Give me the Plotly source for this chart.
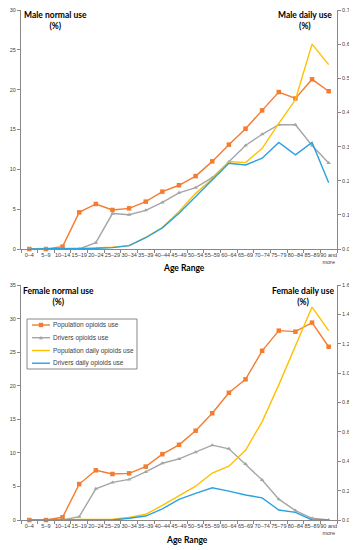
import plotly.graph_objects as go

age_groups = ["0–4", "5–9", "10–14", "15–19", "20–24", "25–29", "30–34", "35–39",
              "40–44", "45–49", "50–54", "55–59", "60–64", "65–69", "70–74",
              "75–79", "80–84", "85–89", "90 and<br>more"]

# Male
male_pop_use = [0, 0, 0.3, 4.6, 5.65, 4.9, 5.1, 5.95, 7.2, 8.0, 9.15, 11.0, 13.1,
                15.1, 17.4, 19.7, 18.9, 21.3, 19.8]
male_drv_use = [0, 0, 0, 0, 0.8, 4.45, 4.3, 4.85, 5.85, 7.05, 7.7, 8.95, 10.95,
                13.0, 14.4, 15.6, 15.6, 13.0, 10.8]
male_pop_daily = [0, 0, 0, 0, 0.003, 0.005, 0.01, 0.034, 0.063, 0.11, 0.163, 0.205,
                  0.256, 0.253, 0.295, 0.368, 0.437, 0.6, 0.54]
male_drv_daily = [0, 0, 0, 0, 0.002, 0.004, 0.01, 0.033, 0.062, 0.105, 0.153, 0.202,
                  0.251, 0.246, 0.266, 0.312, 0.276, 0.312, 0.194]

# Female
female_pop_use = [0, 0, 0.4, 5.35, 7.4, 6.85, 6.95, 7.95, 9.8, 11.2, 13.3, 15.9,
                  18.95, 20.95, 25.2, 28.2, 28.05, 29.4, 25.8]
female_drv_use = [0, 0, 0, 0.5, 4.65, 5.6, 6.05, 7.15, 8.45, 9.1, 10.1, 11.15,
                  10.6, 8.35, 5.95, 3.1, 1.4, 0.25, 0]
female_pop_daily = [0, 0, 0, 0, 0, 0.005, 0.018, 0.039, 0.1, 0.165, 0.23, 0.32,
                    0.366, 0.475, 0.67, 0.92, 1.18, 1.45, 1.29]
female_drv_daily = [0, 0, 0, 0, 0, 0, 0.012, 0.027, 0.075, 0.14, 0.181, 0.219,
                    0.197, 0.17, 0.151, 0.068, 0.052, 0.0, 0.0]

names = ["Population opioids use", "Drivers opioids use",
         "Population daily opioids use", "Drivers daily opioids use"]
colors = ["#F47C30", "#A5A5A5", "#FFC000", "#2AA2DF"]

# The page body has an 8px default margin; lay the figure out in screen pixels
OFF = 8
W, H = 357 - OFF, 550 - OFF
PLOT_L, PLOT_R, PLOT_T, PLOT_B = 21, 337, 10, 520   # screen pixels
L, T = PLOT_L - OFF, PLOT_T - OFF
R, B = W - (PLOT_R - OFF), H - (PLOT_B - OFF)
PW, PH = W - L - R, H - T - B

def px_to_paper(sx, sy):
    return (sx - PLOT_L) / PW, (PLOT_B - sy) / PH

fig = go.Figure()

def add_panel(xa, ya_left, ya_right, pop, drv, popd, drvd):
    fig.add_trace(go.Scatter(x=age_groups, y=pop, name=names[0], xaxis=xa, yaxis=ya_left,
                             mode="lines+markers", line=dict(color=colors[0], width=1.4),
                             marker=dict(symbol="square", size=4.5, color=colors[0]),
                             showlegend=False, cliponaxis=False))
    fig.add_trace(go.Scatter(x=age_groups, y=drv, name=names[1], xaxis=xa, yaxis=ya_left,
                             mode="lines+markers", line=dict(color=colors[1], width=1.4),
                             marker=dict(symbol="triangle-up", size=4, color=colors[1]),
                             showlegend=False, cliponaxis=False))
    fig.add_trace(go.Scatter(x=age_groups, y=popd, name=names[2], xaxis=xa, yaxis=ya_right,
                             mode="lines", line=dict(color=colors[2], width=1.4),
                             showlegend=False, cliponaxis=False))
    fig.add_trace(go.Scatter(x=age_groups, y=drvd, name=names[3], xaxis=xa, yaxis=ya_right,
                             mode="lines", line=dict(color=colors[3], width=1.4),
                             showlegend=False, cliponaxis=False))

add_panel("x", "y", "y2", male_pop_use, male_drv_use, male_pop_daily, male_drv_daily)
add_panel("x2", "y3", "y4", female_pop_use, female_drv_use, female_pop_daily, female_drv_daily)

tickfont = dict(family="Liberation Sans Narrow, Liberation Sans, Arial", size=5.5, color="#404040")
xcommon = dict(type="category", range=[-0.5, 18.5], tickson="boundaries", ticks="outside",
               ticklen=3, tickcolor="#888", showline=True, linecolor="#888", linewidth=1,
               showgrid=False, zeroline=False, tickfont=tickfont, tickangle=0,
               automargin=False, ticklabeloverflow="allow")
ycommon = dict(showgrid=False, zeroline=False, showline=True, linecolor="#888", linewidth=1,
               ticks="outside", ticklen=3, tickcolor="#888", tickfont=tickfont,
               automargin=False, ticklabeloverflow="allow")

top_dom = [(PLOT_B - 249) / PH, 1.0]
bot_dom = [0, (PLOT_B - 285) / PH]

fig.update_layout(
    width=W, height=H,
    margin=dict(l=L, r=R, t=T, b=B),
    paper_bgcolor="white", plot_bgcolor="white",
    showlegend=False,
    xaxis=dict(domain=[0, 1], anchor="y", **xcommon),
    yaxis=dict(domain=top_dom, anchor="x", range=[0, 30], dtick=5, **ycommon),
    yaxis2=dict(overlaying="y", side="right", anchor="x", range=[0, 0.7], dtick=0.1,
                tickformat=".2f", **ycommon),
    xaxis2=dict(domain=[0, 1], anchor="y3", **xcommon),
    yaxis3=dict(domain=bot_dom, anchor="x2", range=[0, 35], dtick=5, **ycommon),
    yaxis4=dict(overlaying="y3", side="right", anchor="x2", range=[0, 1.6], dtick=0.2,
                tickformat=".2f", **ycommon),
)

title_font = dict(family="Lato, Open Sans", size=8.5, color="black")

annots = [
    ("<b>Male normal use</b><br><b>(%)</b>", 55, 20),
    ("<b>Male daily use</b><br><b>(%)</b>", 305, 20),
    ("<b>Female normal use</b><br><b>(%)</b>", 58, 296),
    ("<b>Female daily use</b><br><b>(%)</b>", 303, 296),
    ("<b>Age Range</b>", 184, 268),
    ("<b>Age Range</b>", 187, 540),
]
for text, ax, ay in annots:
    xp, yp = px_to_paper(ax, ay)
    fig.add_annotation(text=text, x=xp, y=yp, xref="paper", yref="paper",
                       xanchor="center", yanchor="middle", showarrow=False,
                       font=title_font, align="center")

# Legend box (custom, to match the compact reference legend)
x0, y0 = px_to_paper(27, 319)
x1, y1 = px_to_paper(137, 369)
fig.add_shape(type="rect", xref="paper", yref="paper", x0=x0, y0=y1, x1=x1, y1=y0,
              line=dict(color="#888", width=1), fillcolor="white", layer="above")
row_y = [325, 337.7, 350.5, 363.2]
for i, (nm, col) in enumerate(zip(names, colors)):
    ly = row_y[i]
    lx0, lyp = px_to_paper(32, ly)
    lx1, _ = px_to_paper(50, ly)
    fig.add_shape(type="line", xref="paper", yref="paper", x0=lx0, x1=lx1, y0=lyp, y1=lyp,
                  line=dict(color=col, width=1.4), layer="above")
    if i == 0:
        a, b = px_to_paper(41 - 2.2, ly + 2.2)
        c, d = px_to_paper(41 + 2.2, ly - 2.2)
        fig.add_shape(type="rect", xref="paper", yref="paper", x0=a, y0=b, x1=c, y1=d,
                      line=dict(width=0), fillcolor=col, layer="above")
    elif i == 1:
        pts = [px_to_paper(41 - 2, ly + 1.6), px_to_paper(41 + 2, ly + 1.6),
               px_to_paper(41, ly - 2)]
        path = "M {} {} L {} {} L {} {} Z".format(pts[0][0], pts[0][1], pts[1][0], pts[1][1],
                                                   pts[2][0], pts[2][1])
        fig.add_shape(type="path", xref="paper", yref="paper", path=path,
                      line=dict(width=0), fillcolor=col, layer="above")
    tx, ty = px_to_paper(51, ly)
    fig.add_annotation(text=nm, x=tx, y=ty, xref="paper", yref="paper",
                       xanchor="left", yanchor="middle", showarrow=False,
                       font=dict(family="Liberation Sans, Arial", size=6.5, color="#404040"))

fig.write_html("out.html")
